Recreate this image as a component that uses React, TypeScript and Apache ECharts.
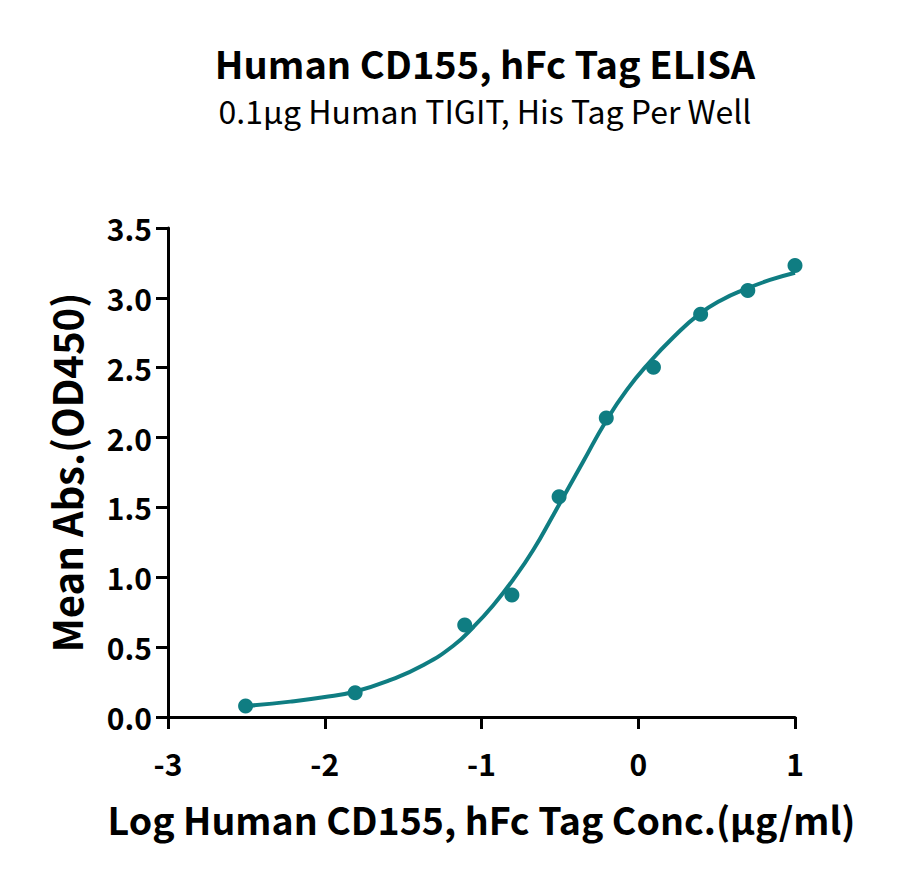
import { useEffect, useRef } from 'react';
import * as echarts from 'echarts';

// measured points (log conc, OD450)
const pointX = [-2.505, -1.806, -1.107, -0.806, -0.505, -0.204, 0.097, 0.398, 0.699, 1.0];
const pointY = [0.079, 0.174, 0.659, 0.873, 1.577, 2.14, 2.503, 2.882, 3.052, 3.232];

// fitted curve
const curveX = [
  -2.5, -2.22, -2.01, -1.81, -1.58, -1.37, -1.18, -1.05, -0.925, -0.8, -0.67, -0.54,
  -0.45, -0.35, -0.21, -0.074, 0.075, 0.224, 0.383, 0.532, 0.681, 0.84, 1.0,
];
const curveY = [
  0.079, 0.11, 0.141, 0.181, 0.265, 0.372, 0.51, 0.646, 0.8, 0.98, 1.195, 1.45,
  1.63, 1.83, 2.11, 2.34, 2.543, 2.718, 2.878, 2.985, 3.061, 3.128, 3.18,
];

const xTicks = [-3, -2, -1, 0, 1];

const TITLE = 'Human CD155, hFc Tag ELISA';
const SUBTITLE = '0.1μg Human TIGIT, His Tag Per Well';
const X_NAME = 'Log Human CD155, hFc Tag Conc.(μg/ml)';
const Y_NAME = 'Mean Abs.(OD450)';

const TEAL = '#0f7d82';
const FONT = '"Noto Sans CJK SC", "Noto Sans", sans-serif';

export default function App() {
  const chartRef = useRef<HTMLDivElement>(null);

  useEffect(() => {
    if (!chartRef.current) return;
    const chart = echarts.init(chartRef.current, undefined, { renderer: 'svg' });

    const axisLine = { show: true, onZero: false, lineStyle: { color: '#000', width: 3 } };
    const axisTick = { show: true, inside: false, length: 12, lineStyle: { color: '#000', width: 3 } };
    const tickFont = { color: '#000', fontFamily: FONT, fontSize: 30, fontWeight: 'bold' as const };

    const option: echarts.EChartsOption = {
      animation: false,
      backgroundColor: '#fff',
      textStyle: { fontFamily: FONT },
      title: [
        {
          text: TITLE,
          left: 480,
          top: 38,
          textAlign: 'center',
          textStyle: { fontFamily: FONT, fontSize: 38, fontWeight: 'bold', color: '#000' },
        },
        {
          text: SUBTITLE,
          left: 480,
          top: 89,
          textAlign: 'center',
          textStyle: { fontFamily: FONT, fontSize: 32, fontWeight: 'normal', color: '#000' },
        },
      ],
      grid: { left: 168, right: 105, top: 228, bottom: 163, containLabel: false },
      xAxis: {
        type: 'value',
        min: -3,
        max: 1,
        interval: 1,
        name: X_NAME,
        nameLocation: 'middle',
        nameGap: 83,
        nameTextStyle: { fontFamily: FONT, fontSize: 37.5, fontWeight: 'bold', color: '#000' },
        axisLine,
        axisTick,
        splitLine: { show: false },
        axisLabel: {
          ...tickFont,
          margin: 31,
          formatter: (v: number) => (xTicks.includes(v) ? String(v) : ''),
        },
      },
      yAxis: {
        type: 'value',
        min: 0,
        max: 3.5,
        interval: 0.5,
        name: Y_NAME,
        nameLocation: 'middle',
        nameGap: 82,
        nameRotate: 90,
        nameTextStyle: { fontFamily: FONT, fontSize: 40, fontWeight: 'bold', color: '#000' },
        axisLine,
        axisTick,
        splitLine: { show: false },
        axisLabel: {
          ...tickFont,
          margin: 16,
          formatter: (v: number) => v.toFixed(1),
        },
      },
      series: [
        {
          name: 'fit',
          type: 'line',
          smooth: true,
          symbol: 'none',
          lineStyle: { color: TEAL, width: 4 },
          data: curveX.map((x, i) => [x, curveY[i]]),
          z: 2,
        },
        {
          name: 'points',
          type: 'scatter',
          symbol: 'circle',
          symbolSize: 15,
          itemStyle: { color: TEAL, opacity: 1 },
          data: pointX.map((x, i) => [x, pointY[i]]),
          z: 3,
        },
      ],
    };

    chart.setOption(option);
    return () => {
      chart.dispose();
    };
  }, []);

  return <div ref={chartRef} style={{ width: 900, height: 880, margin: -8 }} />;
}
